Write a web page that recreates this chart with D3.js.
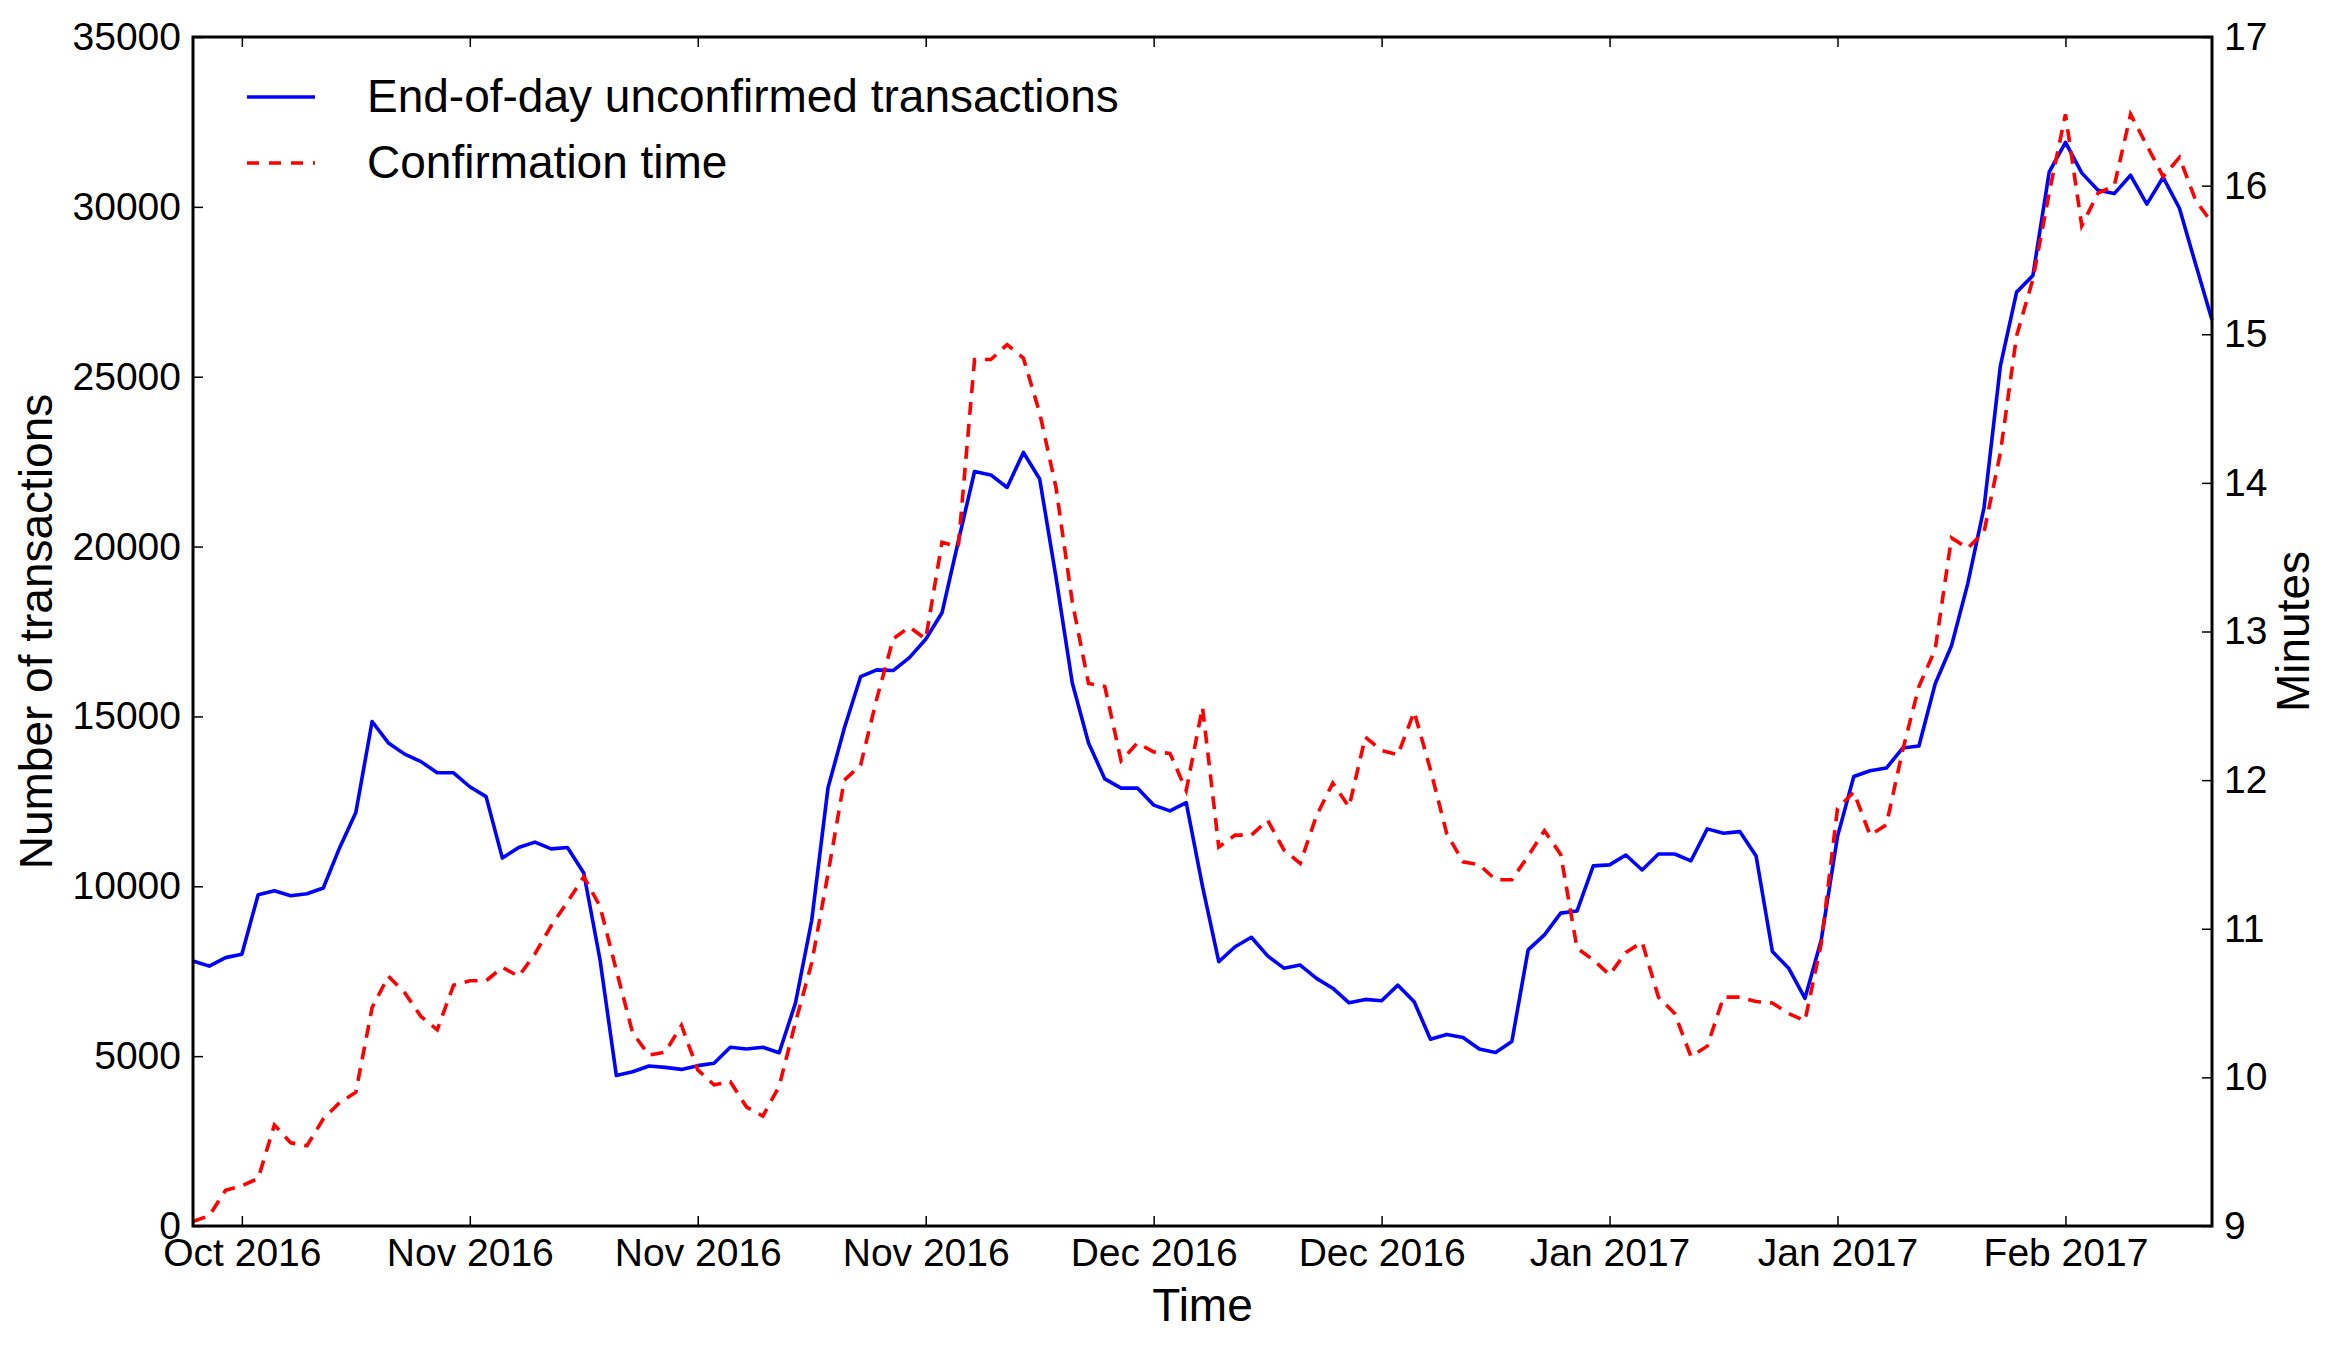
<!DOCTYPE html>
<html>
<head>
<meta charset="utf-8">
<script src="https://cdn.jsdelivr.net/npm/d3@7"></script>
<style>
body { margin: 0; background: #fff; }
text { font-family: "Liberation Sans", Arial, Helvetica, sans-serif; fill: #000; }
</style>
</head>
<body>
<script>
// daily series, first day below
var firstDay = "2016-10-15";

// end-of-day unconfirmed transactions (left axis)
var unconfirmed = [
  7800, 7650, 7900, 8000, 9750, 9870, 9720, 9780, 9950, 11130,
  12170, 14850, 14220, 13890, 13670, 13340, 13340, 12930, 12640, 10830,
  11140, 11300, 11100, 11140, 10390, 7830, 4430, 4540, 4710, 4670,
  4610, 4720, 4790, 5260, 5210, 5260, 5100, 6560, 9000, 12900,
  14650, 16170, 16370, 16350, 16730, 17270, 18050, 20150, 22210, 22110,
  21740, 22770, 21990, 19100, 15990, 14220, 13160, 12890, 12890, 12390,
  12220, 12460, 10000, 7780, 8220, 8500, 7950, 7590, 7680, 7290,
  7000, 6570, 6670, 6630, 7090, 6600, 5500, 5640, 5550, 5210,
  5110, 5430, 8130, 8570, 9210, 9270, 10600, 10630, 10920, 10480,
  10950, 10950, 10750, 11690, 11560, 11610, 10890, 8080, 7590, 6700,
  8420, 11470, 13230, 13400, 13480, 14070, 14130, 15960, 17080, 18910,
  21150, 25310, 27490, 27980, 31020, 31900, 31000, 30490, 30390, 30930,
  30080, 30870, 29960, 28300, 26670
];

// confirmation time in minutes (right axis)
var confMinutes = [
  9.03, 9.07, 9.24, 9.27, 9.32, 9.68, 9.56, 9.54, 9.72, 9.83,
  9.90, 10.47, 10.68, 10.57, 10.41, 10.32, 10.62, 10.65, 10.65, 10.74,
  10.68, 10.83, 11.02, 11.18, 11.35, 11.15, 10.72, 10.30, 10.15, 10.17,
  10.35, 10.05, 9.95, 9.97, 9.80, 9.74, 9.94, 10.37, 10.77, 11.37,
  12.00, 12.10, 12.55, 12.95, 13.03, 12.95, 13.60, 13.57, 14.83, 14.83,
  14.93, 14.84, 14.47, 13.97, 13.20, 12.65, 12.63, 12.13, 12.25, 12.19,
  12.18, 11.93, 12.49, 11.55, 11.63, 11.63, 11.73, 11.53, 11.44, 11.76,
  11.98, 11.82, 12.29, 12.20, 12.17, 12.46, 12.07, 11.64, 11.45, 11.43,
  11.33, 11.33, 11.49, 11.66, 11.50, 10.87, 10.79, 10.69, 10.84, 10.91,
  10.54, 10.43, 10.14, 10.21, 10.54, 10.54, 10.51, 10.50, 10.43, 10.38,
  10.90, 11.81, 11.92, 11.63, 11.70, 12.20, 12.63, 12.88, 13.63, 13.56,
  13.67, 14.20, 14.99, 15.37, 15.95, 16.48, 15.73, 15.95, 16.00, 16.48,
  16.27, 16.06, 16.19, 15.90, 15.75
];

var tickDays = ["2016-10-18", "2016-11-01", "2016-11-15", "2016-11-29", "2016-12-13",
                "2016-12-27", "2017-01-10", "2017-01-24", "2017-02-07"];
var tickLabels = ["Oct 2016", "Nov 2016", "Nov 2016", "Nov 2016", "Dec 2016",
                  "Dec 2016", "Jan 2017", "Jan 2017", "Feb 2017"];
var leftTicks = [0, 5000, 10000, 15000, 20000, 25000, 30000, 35000];
var rightTicks = [9, 10, 11, 12, 13, 14, 15, 16, 17];

var margin = {top: 37, right: 126, bottom: 124, left: 193},
    width = 2338 - margin.left - margin.right,
    height = 1350 - margin.top - margin.bottom;

var parseDay = d3.timeParse("%Y-%m-%d");
var start = parseDay(firstDay);
var days = unconfirmed.map(function(v, i) { return d3.timeDay.offset(start, i); });
var tickDates = tickDays.map(parseDay);

var x = d3.scaleTime()
    .domain([days[0], days[days.length - 1]])
    .range([0, width]);
var y = d3.scaleLinear()
    .domain([0, 35000])
    .range([height, 0]);
var y2 = d3.scaleLinear()
    .domain([9, 17])
    .range([height, 0]);

var svg = d3.select("body").append("svg")
    .attr("width", width + margin.left + margin.right)
    .attr("height", height + margin.top + margin.bottom);

var g = svg.append("g")
    .attr("transform", "translate(" + margin.left + "," + margin.top + ")");

function styleAxis(sel) {
    sel.attr("font-size", 39).attr("font-family", null);
    sel.select(".domain").remove();
    sel.selectAll(".tick line").attr("stroke", "#000").attr("stroke-width", 1.5);
}

// bottom axis
g.append("g")
    .attr("transform", "translate(0," + height + ")")
    .call(d3.axisBottom(x).tickValues(tickDates)
        .tickFormat(function(d, i) { return tickLabels[i]; })
        .tickSizeInner(-10).tickSizeOuter(0).tickPadding(12))
    .call(styleAxis);

// top ticks, no labels
g.append("g")
    .call(d3.axisTop(x).tickValues(tickDates).tickFormat("")
        .tickSizeInner(-10).tickSizeOuter(0))
    .call(styleAxis);

// left axis
g.append("g")
    .call(d3.axisLeft(y).tickValues(leftTicks).tickFormat(d3.format("d"))
        .tickSizeInner(-10).tickSizeOuter(0).tickPadding(12))
    .call(styleAxis);

// right axis
g.append("g")
    .attr("transform", "translate(" + width + ",0)")
    .call(d3.axisRight(y2).tickValues(rightTicks).tickFormat(d3.format("d"))
        .tickSizeInner(-10).tickSizeOuter(0).tickPadding(12))
    .call(styleAxis);

// the lines
var lineTx = d3.line()
    .x(function(d, i) { return x(days[i]); })
    .y(function(d) { return y(d); });
var lineConf = d3.line()
    .x(function(d, i) { return x(days[i]); })
    .y(function(d) { return y2(d); });

g.append("path")
    .datum(unconfirmed)
    .attr("fill", "none")
    .attr("stroke", "#0000ff")
    .attr("stroke-width", 3.6)
    .attr("stroke-linejoin", "round")
    .attr("d", lineTx);

g.append("path")
    .datum(confMinutes)
    .attr("fill", "none")
    .attr("stroke", "#ff0000")
    .attr("stroke-width", 3.6)
    .attr("stroke-dasharray", "13,9")
    .attr("d", lineConf);

// frame
g.append("rect")
    .attr("width", width)
    .attr("height", height)
    .attr("fill", "none")
    .attr("stroke", "#000")
    .attr("stroke-width", 3);

// legend
var legend = svg.append("g").attr("font-size", 46);
var legendRows = [
    {label: "End-of-day unconfirmed transactions", color: "#0000ff", dash: null},
    {label: "Confirmation time", color: "#ff0000", dash: "12,10"}
];
legendRows.forEach(function(r, i) {
    var ly = 97 + i * 66;
    legend.append("line")
        .attr("x1", 247).attr("x2", 315)
        .attr("y1", ly).attr("y2", ly)
        .attr("stroke", r.color)
        .attr("stroke-width", 3.6)
        .attr("stroke-dasharray", r.dash);
    legend.append("text")
        .attr("x", 367)
        .attr("y", ly + 15)
        .text(r.label);
});

// axis titles
svg.append("text")
    .attr("x", margin.left + width / 2)
    .attr("y", 1321)
    .attr("text-anchor", "middle")
    .attr("font-size", 46)
    .text("Time");

svg.append("text")
    .attr("transform", "translate(52," + (margin.top + height / 2) + ") rotate(-90)")
    .attr("text-anchor", "middle")
    .attr("font-size", 46)
    .text("Number of transactions");

svg.append("text")
    .attr("transform", "translate(2309," + (margin.top + height / 2) + ") rotate(-90)")
    .attr("text-anchor", "middle")
    .attr("font-size", 46)
    .text("Minutes");
</script>
</body>
</html>
